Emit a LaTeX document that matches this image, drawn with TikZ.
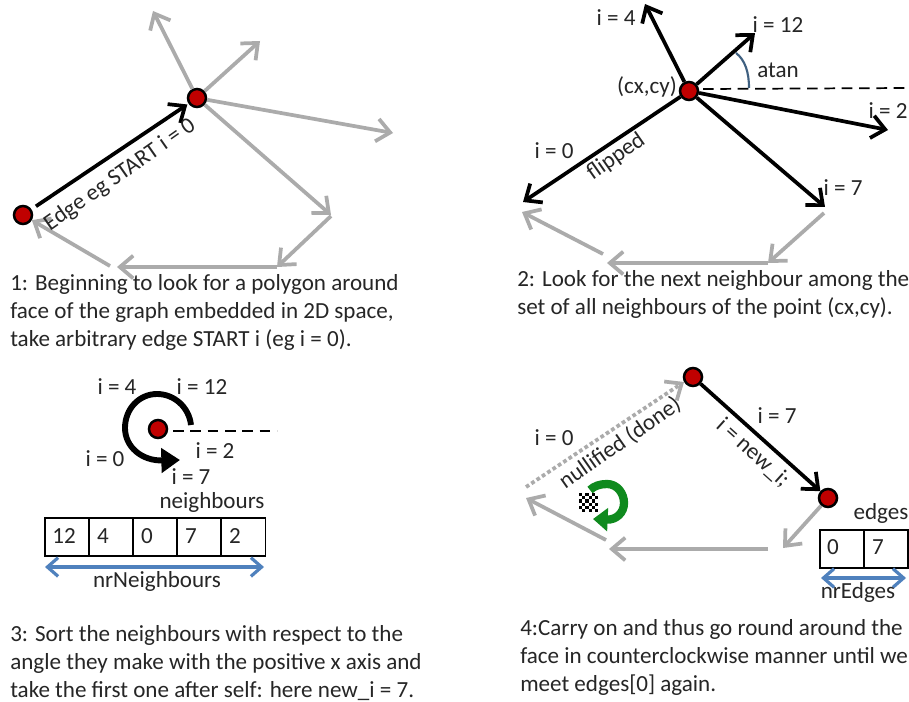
\documentclass[tikz,border=0pt]{standalone}
\usepackage{fontspec}
\setmainfont{Carlito}
\usetikzlibrary{arrows.meta}
\definecolor{txt}{HTML}{262626}
\definecolor{edgegray}{HTML}{ABABAB}
\definecolor{dotred}{HTML}{C00000}
\definecolor{spanblue}{HTML}{4F81BD}
\definecolor{anglblue}{HTML}{3F6080}
\definecolor{turngreen}{HTML}{0F8A1E}
\tikzset{
  barb/.style={-{Straight Barb[length=10pt,width=17pt,line width=2.8pt]}},
  grayedge/.style={barb,draw=edgegray,line width=2.8pt},
  blackedge/.style={barb,draw=black,line width=2.8pt},
  vertexdot/.style={circle,draw=black,fill=dotred,line width=1.9pt,minimum size=13.5pt,inner sep=0pt},
  axisline/.style={draw=black,line width=1.3pt,dash pattern=on 8pt off 5pt},
  lab/.style={text=txt,font=\fontsize{17.3}{21}\selectfont,inner sep=0pt},
  para/.style={text=txt,font=\fontsize{17.3}{21}\selectfont,inner sep=0pt,align=left,anchor=north west},
  cell/.style={draw=black,line width=1.3pt,minimum height=28.5pt,inner sep=0pt,anchor=north west},
  span/.style={{Straight Barb[length=8pt,width=14pt,line width=2.4pt]}-{Straight Barb[length=8pt,width=14pt,line width=2.4pt]},draw=spanblue,line width=2.4pt},
}
\begin{document}
\begin{tikzpicture}[x=0.75pt,y=-0.75pt]
\useasboundingbox (0,0) rectangle (909,702);
\fill[white] (0,0) rectangle (909,702);

% ---------- Panel 1 ----------
\node[vertexdot] (a1) at (197,98) {};
\node[vertexdot] (b1) at (23,215) {};
\coordinate (a1n) at (153,11);
\coordinate (a1e) at (260,41);
\coordinate (a1r) at (393,133);
\coordinate (a1s) at (331,215);
\coordinate (p1a) at (331,216);
\coordinate (p1b) at (277,267);
\coordinate (p1c) at (277,267);
\coordinate (p1d) at (117,267);
\coordinate (p1e) at (110,266);
\draw[grayedge] (a1) -- (a1n);
\draw[grayedge] (a1) -- (a1e);
\draw[grayedge] (a1) -- (a1r);
\draw[grayedge] (a1) -- (a1s);
\draw[grayedge] (p1a) -- (p1b);
\draw[grayedge] (p1c) -- (p1d);
\draw[grayedge] (p1e) -- (b1);
\draw[blackedge,shorten <=4pt,shorten >=1pt] (b1) -- (a1);
\node[lab,rotate=35] (t1a) at (120,175) {Edge eg START i = 0};
\node[para] (t1) at (10,270.4) {\strut 1: Beginning to look for a polygon around\\face of the graph embedded in 2D space,\\take arbitrary edge START i (eg i = 0).};

% ---------- Panel 2 ----------
\coordinate (c2n) at (645,4);
\coordinate (c2e) at (755,33);
\coordinate (c2r) at (888,130);
\coordinate (c2s) at (825,207);
\coordinate (c2w) at (523,202);
\coordinate (d2a) at (703,89);
\coordinate (d2b) at (909,88);
\node[vertexdot] (c2) at (689,91) {};
\draw[blackedge] (c2) -- (c2n);
\draw[blackedge] (c2) -- (c2e);
\draw[blackedge] (c2) -- (c2r);
\draw[blackedge] (c2) -- (c2s);
\draw[blackedge] (c2) -- (c2w);
\draw[axisline] (d2a) -- (d2b);
\coordinate (ang2a) at (736,53);
\coordinate (ang2b) at (749,88);
\draw[draw=anglblue,line width=1.6pt] (ang2a) .. controls (745,60) and (749,72) .. (ang2b);
\coordinate (p2a) at (824,213);
\coordinate (p2b) at (768,263);
\coordinate (p2c) at (768,263);
\coordinate (p2d) at (607,263);
\coordinate (p2e) at (603,254);
\coordinate (p2f) at (522,212);
\draw[grayedge] (p2a) -- (p2b);
\draw[grayedge] (p2c) -- (p2d);
\draw[grayedge] (p2e) -- (p2f);
\node[lab] (l2a) at (616,18) {i = 4};
\node[lab] (l2b) at (778,25) {i = 12};
\node[lab] (l2c) at (778,70) {atan};
\node[lab] (l2d) at (647,87) {(cx,cy)};
\node[lab] (l2e) at (888,111) {i = 2};
\node[lab] (l2f) at (554,151) {i = 0};
\node[lab,rotate=35] (l2g) at (616,157) {flipped};
\node[lab] (l2h) at (843,188) {i = 7};
\node[para] (t2) at (517,266.4) {\strut 2: Look for the next neighbour among the\\set of all neighbours of the point (cx,cy).};

% ---------- Panel 3 ----------
\node[vertexdot] (c3) at (158,429) {};
\coordinate (d3a) at (173,431);
\coordinate (d3b) at (277,431);
\draw[axisline] (d3a) -- (d3b);
\coordinate (cs3) at (191,425);
\coordinate (ct3) at (180,460);
\draw[draw=black,line width=4.4pt,-{Triangle[length=14pt,width=18pt]}]
  (cs3) .. controls (189,407) and (174,394) .. (157,394)
  .. controls (139,394) and (125,409) .. (125,428)
  .. controls (125,447) and (142,461) .. (ct3);
\node[lab] (l3a) at (117,387) {i = 4};
\node[lab] (l3b) at (202,387) {i = 12};
\node[lab] (l3c) at (105,459) {i = 0};
\node[lab] (l3d) at (215,451) {i = 2};
\node[lab] (l3e) at (191,477) {i = 7};
\node[lab] (l3f) at (212,502) {neighbours};
\node[cell,minimum width=33pt] (n1) at (44,517) {};
\node[cell,minimum width=33pt] (n2) at (88,517) {};
\node[cell,minimum width=33pt] (n3) at (132,517) {};
\node[cell,minimum width=33pt] (n4) at (176,517) {};
\node[cell,minimum width=33pt] (n5) at (220.5,517) {};
\node[lab] (v1) at (64,536) {12};
\node[lab] (v2) at (103,536) {4};
\node[lab] (v3) at (147,536) {0};
\node[lab] (v4) at (191,536) {7};
\node[lab] (v5) at (235,536) {2};
\coordinate (s3a) at (45,567);
\coordinate (s3b) at (264,567);
\draw[span] (s3a) -- (s3b);
\node[lab] (l3g) at (157,581) {nrNeighbours};
\node[para] (t3) at (10,621.4) {\strut 3: Sort the neighbours with respect to the\\angle they make with the positive x axis and\\take the first one after self: here new\_i = 7.};

% ---------- Panel 4 ----------
\node[vertexdot] (a4) at (693,377) {};
\node[vertexdot] (b4) at (828,498) {};
\draw[blackedge] (a4) -- (b4);
\coordinate (d4a) at (526,487);
\coordinate (d4b) at (684,382);
\draw[draw=edgegray,line width=2.8pt,dash pattern=on 2.8pt off 2pt,-{Straight Barb[length=10pt,width=17pt,line width=2.8pt]}] (d4a) -- (d4b);
\coordinate (p4b) at (783,548);
\coordinate (p4c) at (768,549);
\coordinate (p4d) at (609,549);
\coordinate (p4e) at (606,540);
\coordinate (p4f) at (526,498);
\draw[grayedge] (b4) -- (p4b);
\draw[grayedge] (p4c) -- (p4d);
\draw[grayedge] (p4e) -- (p4f);
\node[lab] (l4a) at (554,438) {i = 0};
\node[lab,rotate=35] (l4b) at (620,443) {nullified (done)};
\node[lab] (l4c) at (777,416) {i = 7};
\node[lab,rotate=-42] (l4d) at (753,453) {i = new\_i;};
\node[lab] (l4e) at (881,513) {edges};
\node[cell,minimum width=33pt] (e1) at (819,529) {};
\node[cell,minimum width=33pt] (e2) at (863,529) {};
\node[lab] (w1) at (833,547) {0};
\node[lab] (w2) at (878,547) {7};
\coordinate (s4a) at (821,578);
\coordinate (s4b) at (906,578);
\draw[span] (s4a) -- (s4b);
\node[lab] (l4f) at (858,592) {nrEdges};
\node[para] (t4) at (520,615.4) {\strut 4:Carry on and thus go round around the\\face in counterclockwise manner until we\\meet edges[0] again.};
% green turn arrow
\coordinate (g4a) at (590,490);
\coordinate (g4b) at (593,519);
\draw[draw=turngreen,line width=6.2pt,-{Triangle[length=11pt,width=17pt]}]
  (g4a) .. controls (594,486) and (600,484) .. (607,484)
  .. controls (617,484) and (624,493) .. (624,503)
  .. controls (624,513) and (616,520) .. (g4b);
% chequered flag
\foreach \r in {0,...,5}{\foreach \c in {0,...,5}{
  \pgfmathparse{int(mod(\r+\c,2))}
  \ifnum\pgfmathresult=0
    \fill[black] ({579+\c*3.2},{493+\r*3.2}) rectangle ++(3.2,3.2);
  \else
    \fill[white] ({579+\c*3.2},{493+\r*3.2}) rectangle ++(3.2,3.2);
  \fi
}}
\end{tikzpicture}
\end{document}
